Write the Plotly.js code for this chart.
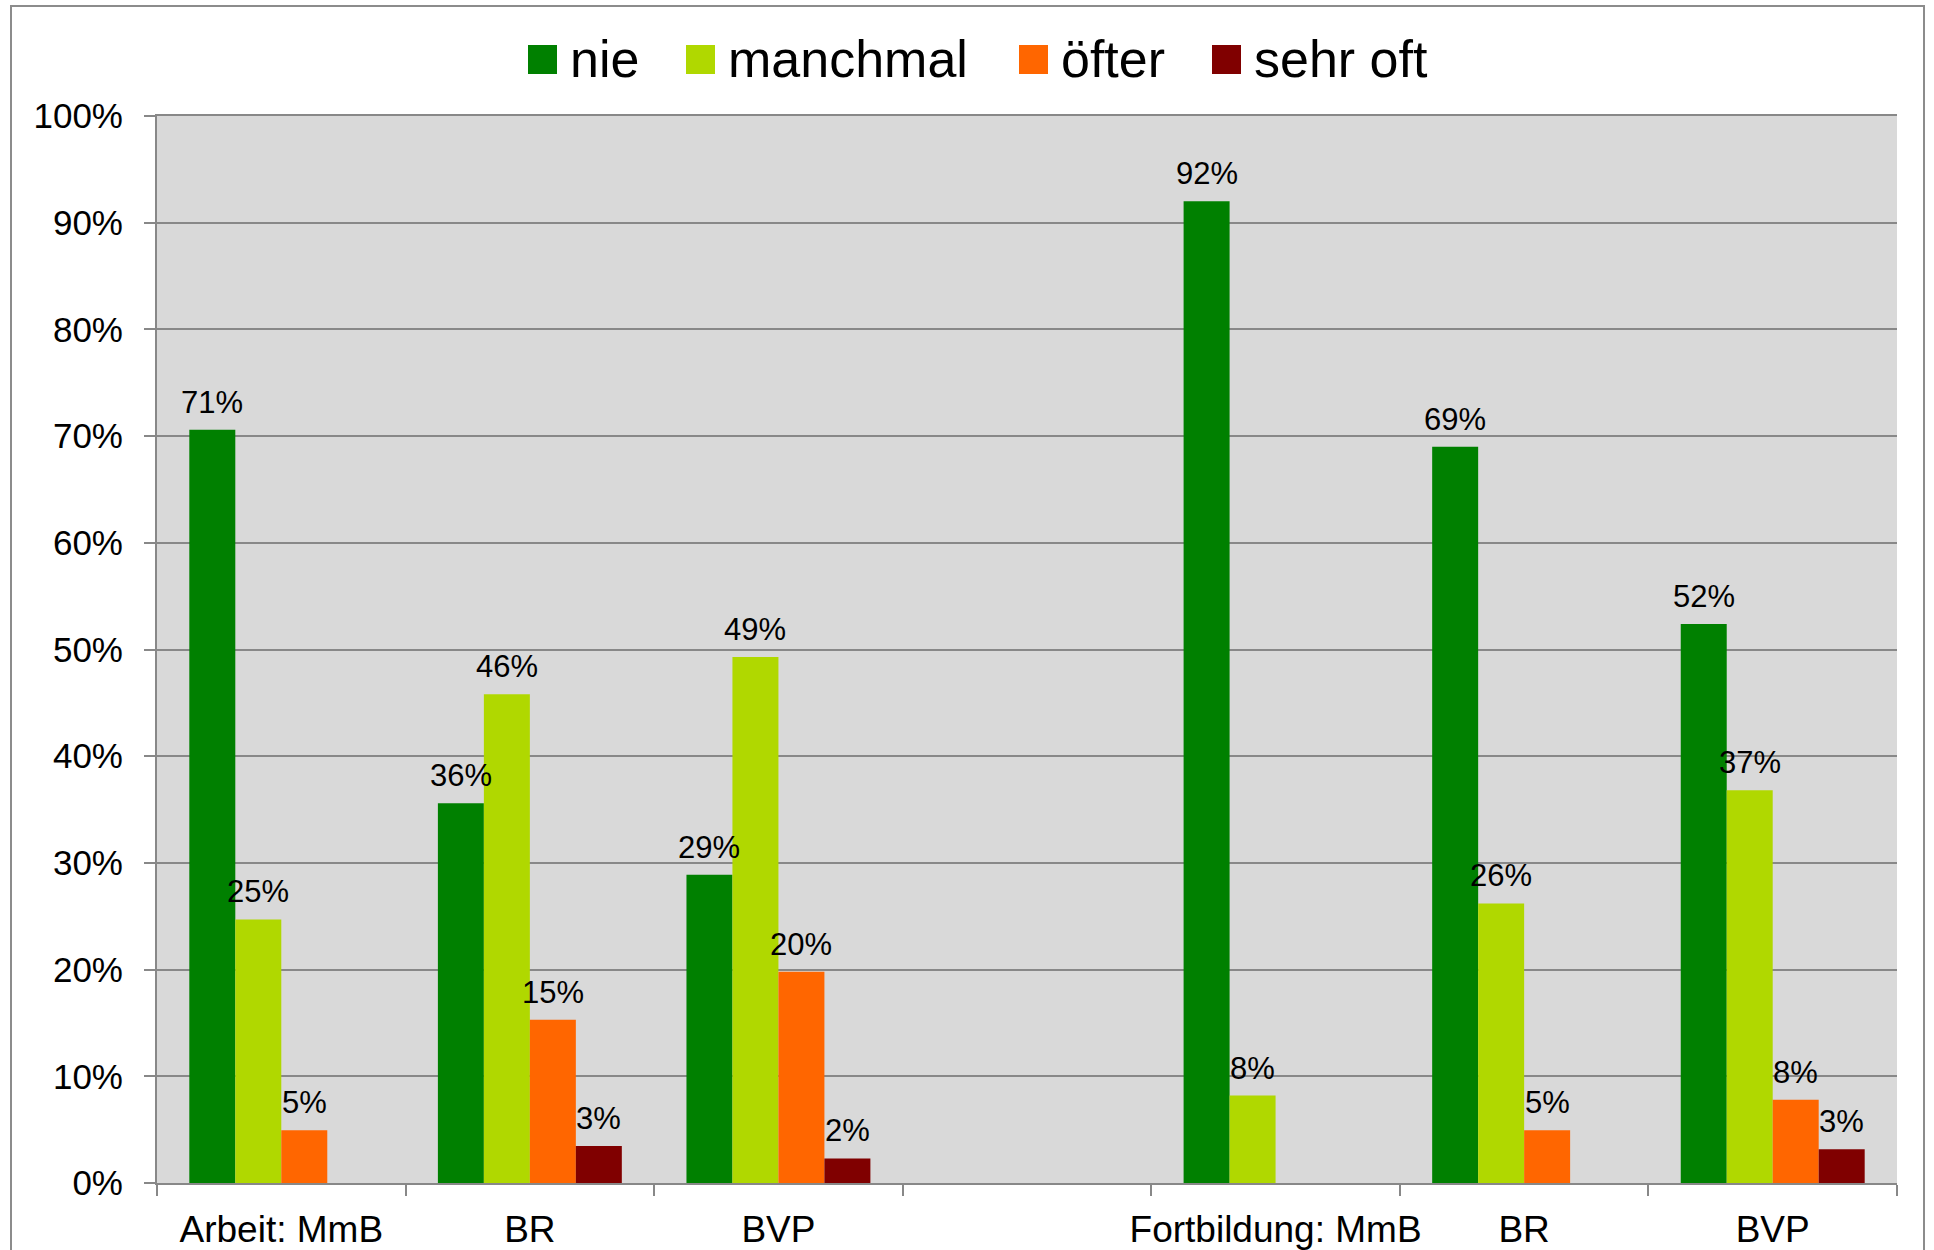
<!DOCTYPE html>
<html>
<head>
<meta charset="utf-8">
<script src="https://cdn.plot.ly/plotly-3.0.1.min.js"></script>
<style>
  html, body { margin: 0; padding: 0; background: #ffffff; }
  #chart { width: 1934px; height: 1250px; }
</style>
</head>
<body>
<div id="chart"></div>
<script>
// Category groups along the x axis (the empty slot separates the two blocks)
const categories = ['Arbeit: MmB', 'BR', 'BVP', '', 'Fortbildung: MmB', 'BR', 'BVP'];

// Series names and shares per category (fractions of 1; null = no bar)
const seriesNames = ['nie', 'manchmal', 'öfter', 'sehr oft'];
const nie      = [0.706, 0.356, 0.289, null, 0.920, 0.690, 0.524];
const manchmal = [0.247, 0.458, 0.493, null, 0.082, 0.262, 0.368];
const oefter   = [0.0494, 0.153, 0.198, null, null, 0.0494, 0.078];
const sehrOft  = [null, 0.0347, 0.023, null, null, null, 0.0316];

const seriesValues = [nie, manchmal, oefter, sehrOft];
const seriesColors = ['#008000', '#B0D800', '#FF6600', '#800000'];

// Page geometry
const W = 1934, H = 1250;
const M = { l: 157, r: 37, t: 116, b: 67 };
const plotW = W - M.l - M.r;
const plotH = H - M.t - M.b;
const px2x = px => (px - M.l) / plotW;
const px2y = py => (H - M.b - py) / plotH;

const FONT = 'Liberation Sans, Arial, Helvetica, sans-serif';
const GRAY = '#888888';
const BARGAP = 0.26;

const xIdx = categories.map((_, i) => i);

const traces = seriesValues.map((vals, s) => ({
  type: 'bar',
  name: seriesNames[s],
  x: xIdx,
  y: vals,
  marker: { color: seriesColors[s], line: { width: 0 } },
  showlegend: false,
  hoverinfo: 'skip'
}));

// Value labels above each bar, centred on its slot in the group
const groupW = 1 - BARGAP;
const barW = groupW / seriesValues.length;
const annotations = [];
seriesValues.forEach((vals, s) => {
  vals.forEach((v, j) => {
    if (v === null) return;
    annotations.push({
      xref: 'x', yref: 'y',
      x: xIdx[j] - groupW / 2 + barW * (s + 0.5),
      y: v,
      text: Math.round(v * 100) + '%',
      showarrow: false,
      xanchor: 'center', yanchor: 'bottom',
      yshift: 8,
      font: { family: FONT, size: 31, color: '#000000' }
    });
  });
});

// Legend row across the top: colour swatch followed by the series name
const legendBoxLeft = [528, 686, 1019, 1212];
const legendBoxSize = 29;
const legendMidY = 59.5;
const shapes = [];
seriesNames.forEach((name, s) => {
  const x0 = legendBoxLeft[s];
  shapes.push({
    type: 'rect', xref: 'paper', yref: 'paper',
    x0: px2x(x0), x1: px2x(x0 + legendBoxSize),
    y0: px2y(legendMidY + legendBoxSize / 2), y1: px2y(legendMidY - legendBoxSize / 2),
    fillcolor: seriesColors[s], line: { width: 0 }
  });
  annotations.push({
    xref: 'paper', yref: 'paper',
    x: px2x(x0 + legendBoxSize + 11), y: px2y(legendMidY),
    xanchor: 'left', yanchor: 'middle',
    text: name, showarrow: false,
    font: { family: FONT, size: 52, color: '#000000' }
  });
});

// Frame around the whole chart area
shapes.push({
  type: 'rect', xref: 'paper', yref: 'paper',
  x0: px2x(11), x1: px2x(1924), y0: px2y(1300), y1: px2y(6),
  line: { color: '#8c8c8c', width: 2 }, fillcolor: 'rgba(0,0,0,0)'
});

const boundaries = [];
for (let i = 0; i <= categories.length; i++) boundaries.push(i - 0.5);

const layout = {
  width: W, height: H,
  margin: M,
  paper_bgcolor: '#ffffff',
  plot_bgcolor: '#D9D9D9',
  barmode: 'group',
  bargap: BARGAP,
  bargroupgap: 0,
  showlegend: false,
  font: { family: FONT, color: '#000000' },
  xaxis: {
    type: 'linear',
    range: [-0.5, categories.length - 0.5],
    tickmode: 'array',
    tickvals: xIdx,
    ticktext: categories,
    ticks: '',
    ticklabelstandoff: 13,
    tickfont: { family: FONT, size: 37, color: '#000000' },
    showgrid: false,
    zeroline: false,
    showline: true,
    mirror: true,
    linecolor: GRAY,
    linewidth: 2,
    minor: {
      tickmode: 'array',
      tickvals: boundaries,
      ticks: 'outside',
      ticklen: 11,
      tickwidth: 2,
      tickcolor: GRAY,
      showgrid: false
    },
    fixedrange: true
  },
  yaxis: {
    range: [0, 1],
    tickmode: 'linear',
    tick0: 0,
    dtick: 0.1,
    tickformat: '.0%',
    ticks: 'outside',
    ticklen: 11,
    tickwidth: 2,
    tickcolor: GRAY,
    ticklabelstandoff: 14,
    tickfont: { family: FONT, size: 35, color: '#000000' },
    showgrid: true,
    gridcolor: GRAY,
    gridwidth: 2,
    zeroline: false,
    showline: true,
    linecolor: GRAY,
    linewidth: 2,
    fixedrange: true
  },
  shapes: shapes,
  annotations: annotations
};

Plotly.newPlot('chart', traces, layout, { displayModeBar: false, staticPlot: true });
</script>
</body>
</html>
